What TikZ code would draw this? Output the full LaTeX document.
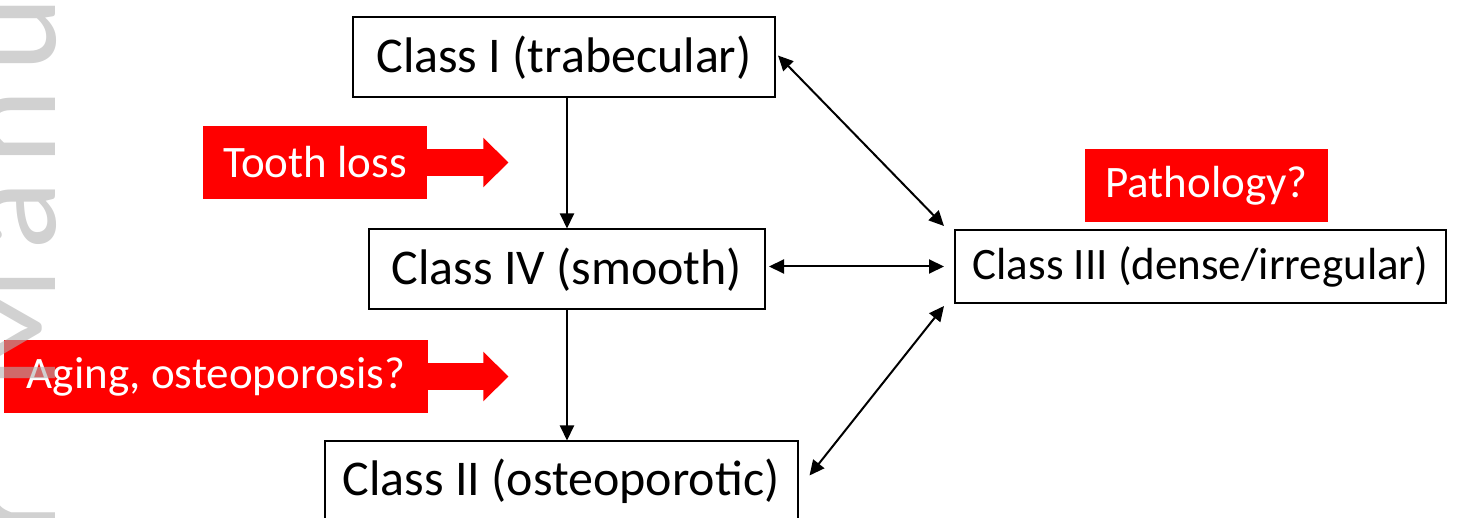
\documentclass[tikz,border=0pt]{standalone}
\usepackage{fontspec}
\setmainfont{Carlito}
\newfontfamily\stampfont[LetterSpace=11]{Carlito}
\usepackage{tikz}
\usetikzlibrary{arrows.meta}
\usetikzlibrary{positioning}
\tikzset{
    classbox/.style={
           rectangle,
           draw=black, line width=1pt,
           minimum height=40pt,
           inner sep=2pt,
           font=\fontsize{25}{30}\selectfont,
           text centered,
           },
    cause/.style={
           rectangle,
           fill=red,
           text=white,
           minimum height=36.5pt,
           inner sep=2pt,
           font=\fontsize{22.5}{27}\selectfont,
           },
    push/.style={
           draw=red, line width=13.5pt,
           -{Triangle[length=12.5pt,width=24pt]},
           },
    link/.style={
           line width=1pt,
           {Triangle[length=7.5pt,width=7pt]}-{Triangle[length=7.5pt,width=7pt]},
           },
}

\begin{document}
\begin{tikzpicture}[x=0.5pt,y=-0.5pt,->,>={Triangle[length=7.5pt,width=7pt]}]
 \useasboundingbox (0,0) rectangle (1463,518);

 % Middle class, the others hang off it
 \node[classbox,minimum width=198pt] (Class IV) at (567,269.5)
 {Class IV (smooth)};

 \node[classbox,       % layout (defined above)
  minimum width=211pt,
  above of=Class IV,
  node distance=106pt,
  xshift=-1.5pt,
  anchor=center] (Class I)
  {Class I (trabecular)};

 \node[classbox,
  minimum width=236.5pt,
  below of=Class IV,
  node distance=106pt,
  xshift=-3pt,
  anchor=center] (Class II)
  {Class II (osteoporotic)};

 \node[classbox,
  minimum width=245.5pt,
  minimum height=36.5pt,
  font=\fontsize{22.5}{27}\selectfont] (Class III) at (1200.5,266.5)
  {Class III (dense/irregular)};

 % red causes
 \node[cause,minimum width=112pt] (Tooth) at (315,162.5) {Tooth loss};
 \node[cause,minimum width=212pt] (Aging) at (216,376.5) {Aging, osteoporosis?};
 \node[cause,minimum width=121.5pt] (Pathology) at (1206.5,185.5) {Pathology?};

 \coordinate[right=40.5pt of Tooth.east] (Tooth tip);
 \coordinate[right=40pt of Aging.east] (Aging tip);
 \draw[push] (Tooth.east) -- (Tooth tip);
 \draw[push] (Aging.east) -- (Aging tip);

 % the paths between the classes
 \draw[line width=1pt] (Class I.south -| Class IV.north) -- (Class IV.north);
 \draw[line width=1pt] (Class IV.south) -- (Class II.north -| Class IV.south);

 \draw[link] ([shift={(1pt,1pt)}]Class I.east) -- ([shift={(-5pt,1.5pt)}]Class III.north west);
 \draw[link,shorten <=1.5pt,shorten >=5pt] (Class IV.east |- Class III.west) -- (Class III.west);
 \draw[link] ([shift={(-5pt,-1pt)}]Class III.south west) -- ([shift={(5.5pt,3pt)}]Class II.east);

 % faint stamp on the left border
 \node[rotate=90,anchor=base west,inner sep=0pt,
  text=black!30,text opacity=0.6,
  font=\stampfont\fontsize{72.5}{80}\selectfont] (Stamp) at (55,976) {Author\hspace{22.5pt} Manuscript};

\end{tikzpicture}
\end{document}
